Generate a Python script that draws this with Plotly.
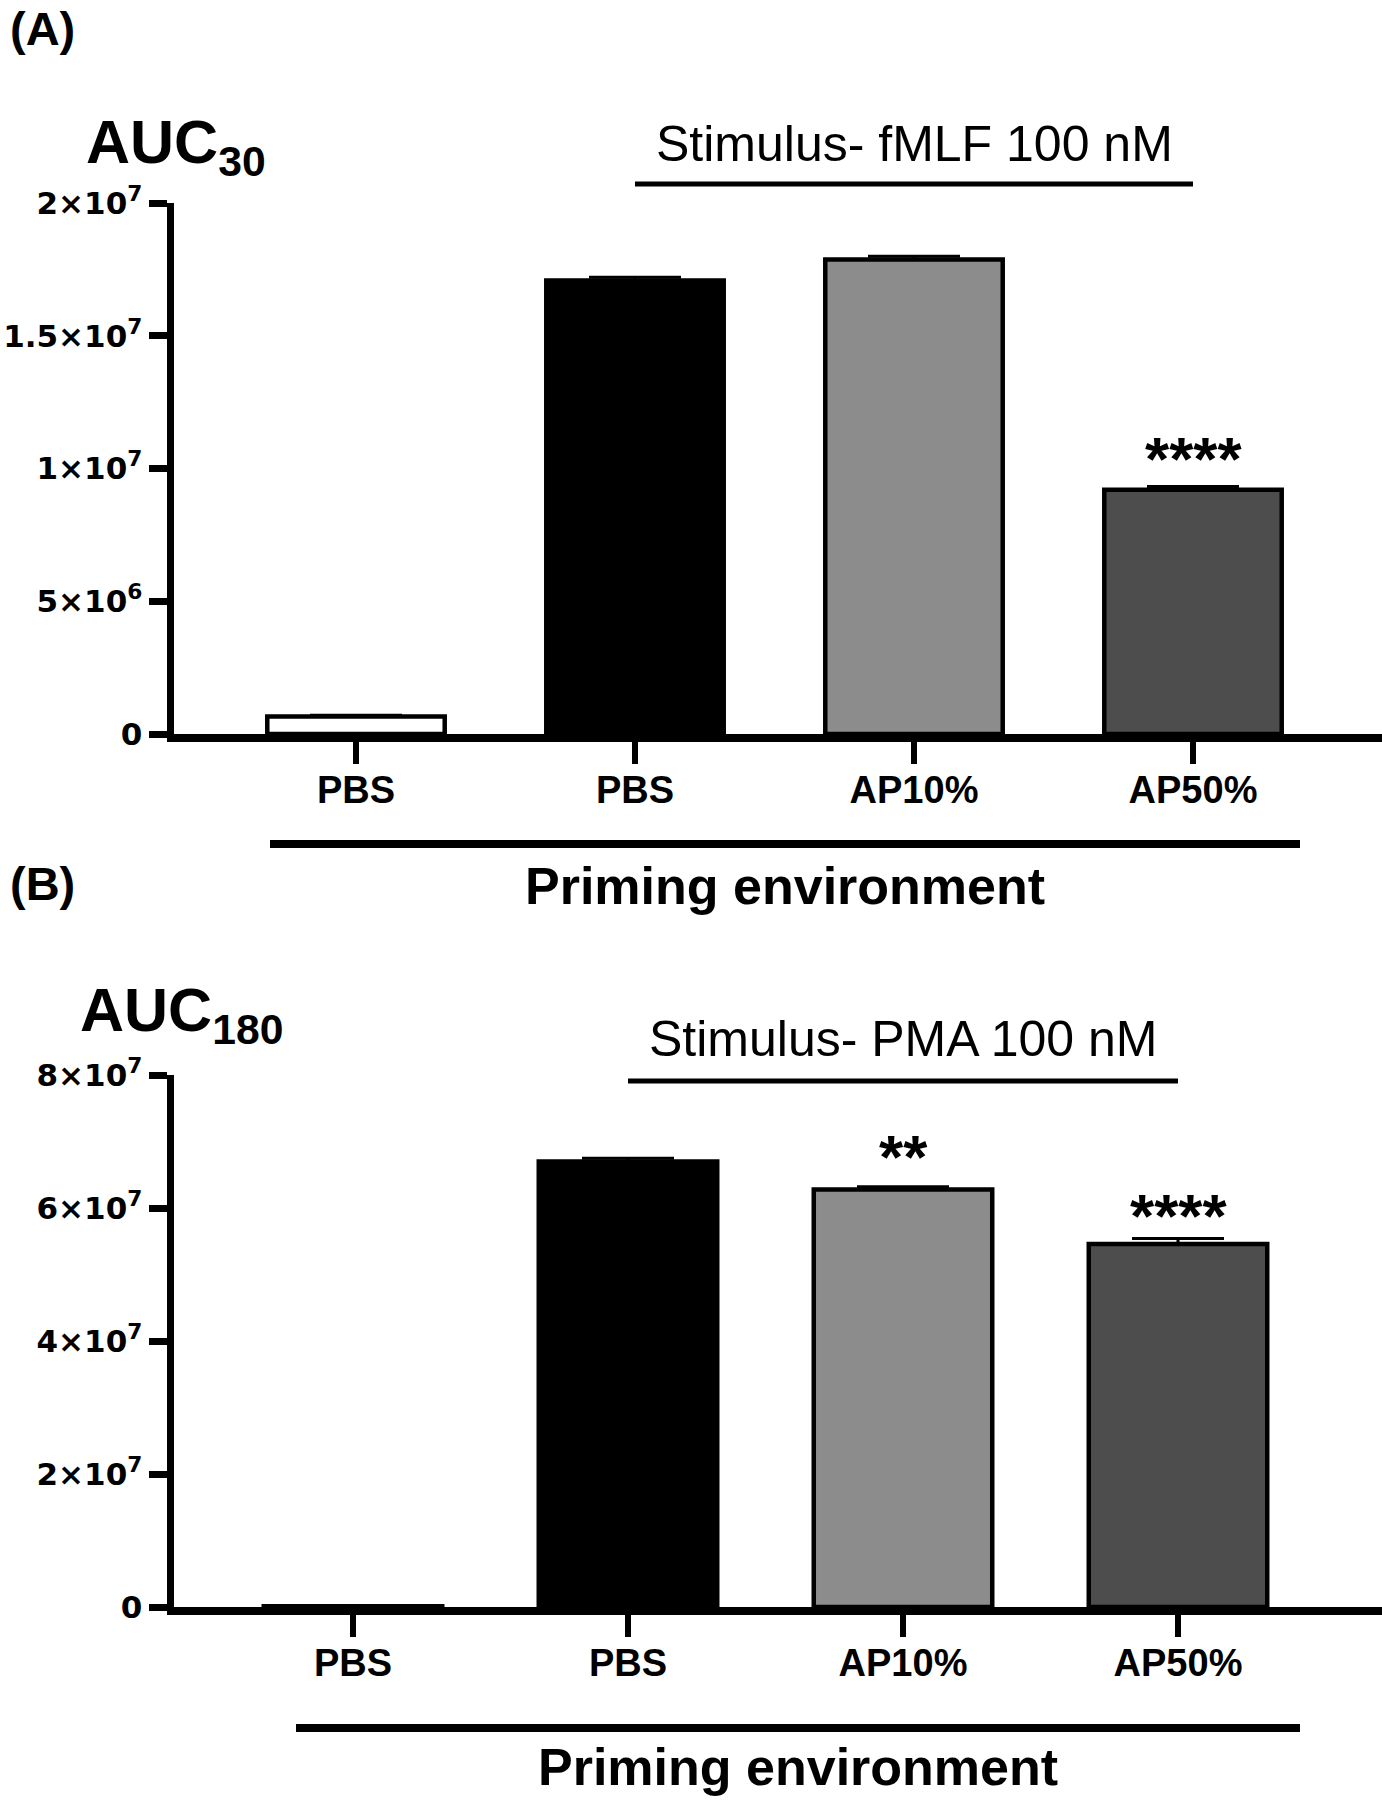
import plotly.graph_objects as go

W, H = 1382, 1800

# ---------------- data ----------------
categories = ["PBS", "PBS", "AP10%", "AP50%"]
x_pos = [0, 1, 2, 3]

auc30_values = [6.6e5, 1.708e7, 1.787e7, 9.20e6]
auc30_errors = [5e4, 1.2e5, 1.2e5, 1.2e5]
auc30_sig = ["", "", "", "****"]

auc180_values = [1.0e5, 6.70e7, 6.28e7, 5.46e7]
auc180_errors = [5e4, 5e5, 4e5, 8e5]
auc180_sig = ["", "", "**", "****"]

bar_colors = ["#ffffff", "#000000", "#8c8c8c", "#4d4d4d"]

a_tickvals = [0, 5e6, 1e7, 1.5e7, 2e7]
a_ticktext = ["0", "5×10<sup>6</sup>", "1×10<sup>7</sup>", "1.5×10<sup>7</sup>", "2×10<sup>7</sup>"]
b_tickvals = [0, 2e7, 4e7, 6e7, 8e7]
b_ticktext = ["0", "2×10<sup>7</sup>", "4×10<sup>7</sup>", "6×10<sup>7</sup>", "8×10<sup>7</sup>"]

stim_a = "Stimulus- fMLF 100 nM"
stim_b = "Stimulus- PMA 100 nM"
priming = "Priming environment"

# ---------------- helpers ----------------
def py(px):
    return 1 - px / H

def pxx(px):
    return px / W

SANS = "Liberation Sans, Arial, Helvetica, sans-serif"
TICKY = "DejaVu Sans, Liberation Sans, sans-serif"

fig = go.Figure()

def add_bars(values, errors, xa, ya, width):
    fig.add_trace(go.Bar(
        x=x_pos, y=values, xaxis=xa, yaxis=ya, width=width,
        marker=dict(color=bar_colors, line=dict(color="black", width=4.5)),
        error_y=dict(type="data", symmetric=False, array=errors,
                     arrayminus=[0] * len(errors), color="black",
                     thickness=3, width=46),
        showlegend=False, hoverinfo="skip",
    ))

add_bars(auc30_values, auc30_errors, "x", "y", 0.636)
add_bars(auc180_values, auc180_errors, "x2", "y2", 0.649)

# axis geometry (pixels)
left = 174
a_c0, a_sp = 356, 279
b_c0, b_sp = 353, 275
a_top, a_zero = 203, 734
b_top, b_zero = 1075, 1607

axis_common = dict(showline=True, linecolor="black", linewidth=7.5,
                   showgrid=False, zeroline=False, ticks="outside",
                   tickcolor="black", fixedrange=True, automargin=False)

xaxis_common = dict(tickvals=x_pos, ticktext=["<b>%s</b>" % c for c in categories],
                    tickfont=dict(family=SANS, size=38, color="black"),
                    ticklen=22, tickwidth=6, ticklabelstandoff=-6)

yfont = dict(family=TICKY, size=31, color="black")

fig.update_layout(
    width=W, height=H, autosize=False,
    margin=dict(l=0, r=0, t=0, b=0, pad=0, autoexpand=False),
    paper_bgcolor="white", plot_bgcolor="white",
    bargap=0,
    xaxis=dict(domain=[pxx(left), 1],
               range=[(left - a_c0) / a_sp, (W - a_c0) / a_sp],
               anchor="y", **xaxis_common, **axis_common),
    yaxis=dict(domain=[py(a_zero), py(a_top)], range=[0, 2e7],
               tickvals=a_tickvals, ticktext=["<b>%s</b>" % t for t in a_ticktext],
               tickfont=yfont, ticklen=18, tickwidth=7, anchor="x", **axis_common),
    xaxis2=dict(domain=[pxx(left), 1],
                range=[(left - b_c0) / b_sp, (W - b_c0) / b_sp],
                anchor="y2", **xaxis_common, **axis_common),
    yaxis2=dict(domain=[py(b_zero), py(b_top)], range=[0, 8e7],
                tickvals=b_tickvals, ticktext=["<b>%s</b>" % t for t in b_ticktext],
                tickfont=yfont, ticklen=18, tickwidth=7, anchor="x2", **axis_common),
)

shapes = []
annotations = []

# bracket lines
shapes.append(dict(type="line", xref="x", yref="paper", x0=1, x1=3,
                   y0=py(184), y1=py(184), line=dict(color="black", width=5)))
shapes.append(dict(type="line", xref="x", yref="paper",
                   x0=(270 - a_c0) / a_sp, x1=(1300 - a_c0) / a_sp,
                   y0=py(844), y1=py(844), line=dict(color="black", width=8)))
shapes.append(dict(type="line", xref="x2", yref="paper", x0=1, x1=3,
                   y0=py(1081), y1=py(1081), line=dict(color="black", width=5)))
shapes.append(dict(type="line", xref="x2", yref="paper",
                   x0=(296 - b_c0) / b_sp, x1=(1300 - b_c0) / b_sp,
                   y0=py(1728), y1=py(1728), line=dict(color="black", width=8)))

def ann(text, x, y, size, xref="paper", yref="paper", xanchor="center",
        yanchor="middle", yshift=0, family=SANS):
    annotations.append(dict(text=text, x=x, y=y, xref=xref, yref=yref,
                            xanchor=xanchor, yanchor=yanchor, yshift=yshift,
                            showarrow=False,
                            font=dict(family=family, size=size, color="black")))

# panel labels
ann("<b>(A)</b>", pxx(8), py(29), 47, xanchor="left")
ann("<b>(B)</b>", pxx(8), py(884), 47, xanchor="left")

# y titles
ann("<b>AUC<sub>30</sub></b>", pxx(84), py(146), 61, xanchor="left")
ann("<b>AUC<sub>180</sub></b>", pxx(78), py(1014), 61, xanchor="left")

# stimulus labels
ann(stim_a, 2, py(144), 50, xref="x")
ann(stim_b, 2, py(1039), 50, xref="x2")

# priming labels
ann("<b>%s</b>" % priming, pxx(785), py(886), 52)
ann("<b>%s</b>" % priming, pxx(798), py(1767), 52)

# significance stars
for i, s in enumerate(auc30_sig):
    if s:
        ann("<b>%s</b>" % s, x_pos[i], auc30_values[i] + auc30_errors[i], 62,
            xref="x", yref="y", yanchor="bottom", yshift=-8)
for i, s in enumerate(auc180_sig):
    shift = -6 if s == "**" else -13
    if s:
        ann("<b>%s</b>" % s, x_pos[i], auc180_values[i] + auc180_errors[i], 62,
            xref="x2", yref="y2", yanchor="bottom", yshift=shift)

fig.update_layout(shapes=shapes, annotations=annotations)

fig.write_html("out.html",
               config={"displayModeBar": False, "staticPlot": True},
               post_script="document.body.style.margin='0';document.body.style.overflow='hidden';")
